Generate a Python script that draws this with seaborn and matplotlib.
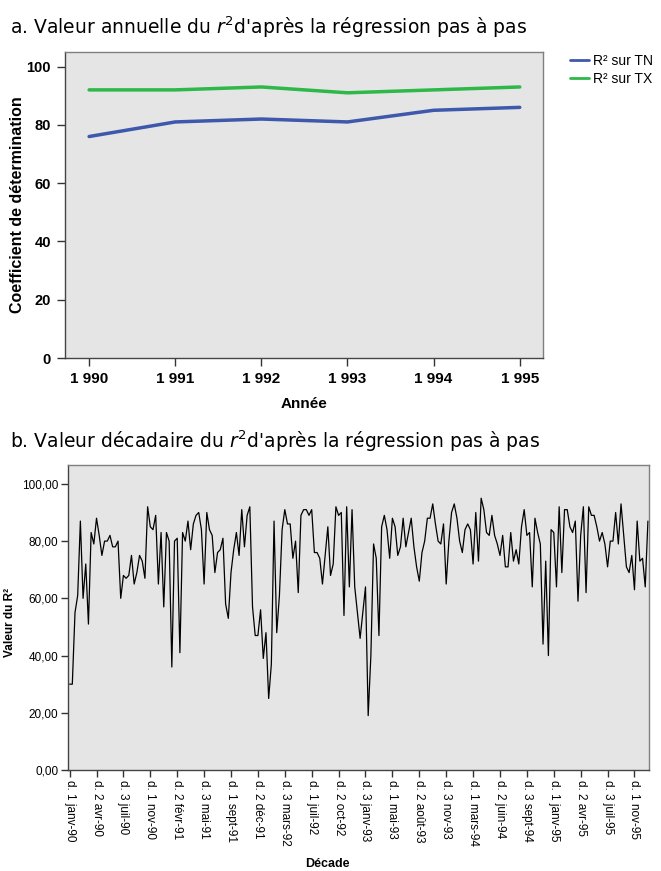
import numpy as np
import pandas as pd
import matplotlib
matplotlib.use("Agg")
import matplotlib.pyplot as plt
import seaborn as sns

# ---------------- data ----------------
years = [1990, 1991, 1992, 1993, 1994, 1995]
year_labels = ["1 990", "1 991", "1 992", "1 993", "1 994", "1 995"]
r2_tn = [76, 81, 82, 81, 85, 86]
r2_tx = [92, 92, 93, 91, 92, 93]
series_names = ["R² sur TN", "R² sur TX"]
series_colors = ["#3E58AC", "#2EB848"]
top_yticks = [0, 20, 40, 60, 80, 100]

decade_r2 = [
    30, 30, 55, 61, 87, 60, 72, 51, 83, 79, 88, 82, 75, 80, 80, 82, 78, 78, 80, 60,
    68, 67, 68, 75, 65, 69, 75, 73, 67, 92, 85, 84, 89, 65, 83, 57, 83, 80, 36, 80,
    81, 41, 83, 80, 87, 77, 86, 89, 90, 84, 65, 90, 84, 82, 69, 76, 77, 81, 58, 53,
    69, 77, 83, 75, 91, 78, 89, 92, 57, 47, 47, 56, 39, 48, 25, 37, 87, 48, 61, 84,
    91, 86, 86, 74, 80, 62, 89, 91, 91, 89, 91, 76, 76, 74, 65, 75, 85, 68, 72, 92,
    89, 90, 54, 92, 64, 91, 64, 55, 46, 55, 64, 19, 40, 79, 74, 47, 85, 89, 84, 74,
    88, 85, 75, 78, 88, 78, 83, 88, 78, 71, 66, 76, 80, 88, 88, 93, 86, 80, 79, 86,
    65, 80, 90, 93, 88, 80, 76, 84, 86, 84, 72, 90, 73, 95, 91, 83, 82, 89, 82, 79,
    75, 82, 71, 71, 83, 73, 77, 72, 85, 91, 82, 83, 64, 88, 83, 79, 44, 73, 40, 84,
    83, 64, 92, 69, 91, 91, 85, 83, 87, 59, 82, 92, 62, 92, 89, 89, 85, 80, 83, 79,
    71, 80, 80, 90, 79, 93, 82, 71, 69, 75, 63, 87, 73, 74, 64, 87,
]
decade_tick_labels = [
    "d. 1 janv-90", "d. 2 avr-90", "d. 3 juil-90", "d. 1 nov-90", "d. 2 févr-91",
    "d. 3 mai-91", "d. 1 sept-91", "d. 2 déc-91", "d. 3 mars-92", "d. 1 juil-92",
    "d. 2 oct-92", "d. 3 janv-93", "d. 1 mai-93", "d. 2 août-93", "d. 3 nov-93",
    "d. 1 mars-94", "d. 2 juin-94", "d. 3 sept-94", "d. 1 janv-95", "d. 2 avr-95",
    "d. 3 juil-95", "d. 1 nov-95",
]
bottom_yticks = [0, 20, 40, 60, 80, 100]
bottom_ytick_labels = ["0,00", "20,00", "40,00", "60,00", "80,00", "100,00"]

# ---------------- style ----------------
sns.set_style("white")
plt.rcParams["font.family"] = ["Liberation Sans", "DejaVu Sans"]
plt.rcParams["mathtext.fontset"] = "dejavusans"
for k in ["text.color", "axes.labelcolor", "xtick.color", "ytick.color"]:
    plt.rcParams[k] = "black"

W, H = 661, 871
fig = plt.figure(figsize=(W / 100, H / 100), dpi=100)

def ax_rect(l, t, r, b):
    return [l / W, 1 - b / H, (r - l) / W, (b - t) / H]

bg = "#E5E5E5"
frame = "#7F7F7F"

# ---------------- top panel ----------------
ax1 = fig.add_axes(ax_rect(65, 52, 543, 358))
df_top = pd.DataFrame({
    "Année": years * 2,
    "valeur": r2_tn + r2_tx,
    "série": [series_names[0]] * len(years) + [series_names[1]] * len(years),
})
sns.lineplot(data=df_top, x="Année", y="valeur", hue="série",
             palette=dict(zip(series_names, series_colors)), linewidth=2.5,
             ax=ax1, legend=True)
ax1.set_facecolor(bg)
ax1.set_xlim(1989.72, 1995.27)
ax1.set_ylim(0, 105)
ax1.set_xticks(years)
ax1.set_xticklabels(year_labels, fontsize=11, fontweight="bold")
ax1.set_yticks(top_yticks)
ax1.set_yticklabels([str(v) for v in top_yticks], fontsize=10.5, fontweight="bold")
ax1.tick_params(axis="both", direction="out", length=6, width=1, color="#333333",
                pad=4, bottom=True, left=True)
ax1.set_xlabel("Année", fontsize=11, fontweight="bold")
ax1.xaxis.set_label_coords(0.5, -0.128)
ax1.set_ylabel("Coefficient de détermination", fontsize=11.5, fontweight="bold")
ax1.yaxis.set_label_coords(-0.084, 0.5)
for s in ax1.spines.values():
    s.set_color(frame)
    s.set_linewidth(1)
ax1.spines["left"].set_color("#444444")
ax1.spines["bottom"].set_color("#444444")
handles, labels = ax1.get_legend_handles_labels()
ax1.get_legend().remove()
for h in handles:
    h.set_linewidth(2)
fig.legend(handles, labels, loc="upper left", bbox_to_anchor=(570 / W, 1 - 54 / H),
           frameon=False, fontsize=10, handlelength=1.4, handletextpad=0.25,
           labelspacing=0.3, borderaxespad=0, borderpad=0)

fig.text(10 / W, 1 - 27 / H,
         "a. Valeur annuelle du $r^2$d'après la régression pas à pas",
         fontsize=13.5, family="DejaVu Sans", va="center", ha="left")

# ---------------- bottom panel ----------------
ax2 = fig.add_axes(ax_rect(68, 465, 649, 770))
idx = np.arange(len(decade_r2))
sns.lineplot(x=idx, y=decade_r2, color="black", linewidth=0.9, ax=ax2)
ax2.set_facecolor(bg)
ax2.set_xlim(-0.6, len(decade_r2) - 0.6)
ax2.set_ylim(0, 106.6)
ax2.set_xticks(idx[::10])
ax2.set_xticklabels(decade_tick_labels, rotation=-90, fontsize=8.5, va="top", ha="center")
ax2.set_yticks(bottom_yticks)
ax2.set_yticklabels(bottom_ytick_labels, fontsize=8.5)
ax2.tick_params(axis="both", direction="out", length=5, width=1, color="#333333",
                pad=2, bottom=True, left=True)
ax2.set_xlabel("Décade", fontsize=9, fontweight="bold")
ax2.xaxis.set_label_coords(0.446, -0.29)
ax2.set_ylabel("Valeur du R²", fontsize=8.5, fontweight="bold")
ax2.yaxis.set_label_coords(-0.09, 0.485)
for s in ax2.spines.values():
    s.set_color(frame)
    s.set_linewidth(1)
ax2.spines["left"].set_color("#444444")
ax2.spines["bottom"].set_color("#444444")

fig.text(10 / W, 1 - 441 / H,
         "b. Valeur décadaire du $r^2$d'après la régression pas à pas",
         fontsize=13.5, family="DejaVu Sans", va="center", ha="left")

fig.savefig("out.png", dpi=100, facecolor="white")
